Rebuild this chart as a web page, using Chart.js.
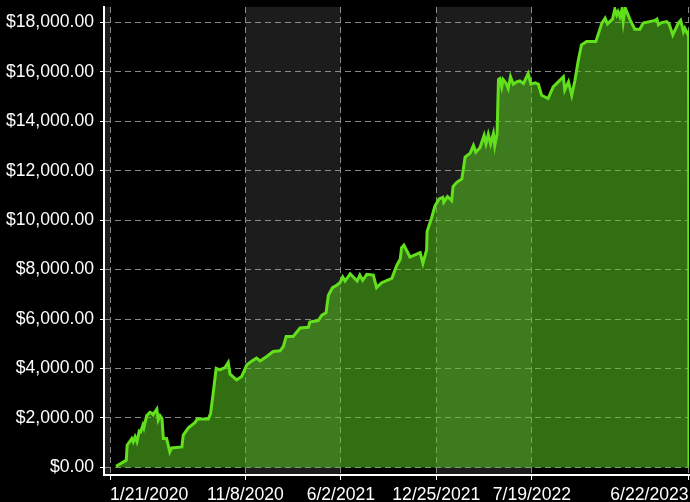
<!DOCTYPE html>
<html>
<head>
<meta charset="utf-8">
<script src="https://cdn.jsdelivr.net/npm/chart.js@4.4.1/dist/chart.umd.min.js"></script>
<style>
  html, body { margin: 0; padding: 0; background: #000; }
  #wrap { width: 690px; height: 502px; }
</style>
</head>
<body>
<div id="wrap"><canvas id="equityChart" width="690" height="502"></canvas></div>
<script>
// Days since 1/21/2020 and account value ($)
const days = [
    13, 35, 37, 47, 50, 54, 58, 63, 66, 71, 73, 79, 86, 90, 93, 97, 101, 104, 108, 112,
    115, 122, 129, 133, 155, 158, 169, 183, 188, 212, 217, 223, 229, 237, 244, 248, 255, 259, 273, 284,
    295, 306, 316, 324, 338, 352, 367, 374, 380, 395, 403, 410, 428, 431, 449, 457, 466, 471, 480, 489,
    496, 502, 507, 518, 533, 539, 545, 554, 568, 575, 586, 608, 618, 626, 629, 634, 647, 669, 675, 683,
    684, 694, 701, 710, 718, 720, 728, 737, 740, 748, 759, 766, 777, 784, 789, 798, 807, 811, 816, 821,
    827, 830, 835, 838, 841, 845, 848, 854, 859, 864, 870, 877, 884, 892, 902, 908, 917, 924, 931, 945,
    956, 978, 981, 989, 996, 1003, 1010, 1017, 1028, 1048, 1061, 1068, 1073, 1084, 1089, 1093, 1096, 1100, 1104, 1107,
    1111, 1122, 1132, 1143, 1150, 1176, 1180, 1183, 1190, 1201, 1206, 1214, 1226, 1231, 1237, 1240, 1245, 1248, 1249
];
const values = [
    50, 290, 900, 1170, 1040, 1240, 1040, 1470, 1440, 1710, 1600, 2090, 2230, 2190, 2130, 2250, 2360, 1920, 2090, 1980,
    1170, 1170, 630, 790, 830, 1310, 1600, 1810, 1960, 1960, 2190, 3070, 4010, 3950, 4010, 4040, 4250, 3770, 3540, 3680,
    4150, 4310, 4420, 4310, 4490, 4690, 4720, 4900, 5300, 5300, 5480, 5640, 5670, 5880, 5940, 6160, 6250, 6960, 7270, 7370,
    7470, 7700, 7540, 7830, 7540, 7780, 7570, 7810, 7780, 7270, 7470, 7650, 8150, 8420, 8890, 8990, 8510, 8690, 8250, 8800,
    9540, 10110, 10580, 10860, 10920, 10720, 10950, 10790, 11360, 11530, 11670, 12550, 12710, 13020, 12750, 12930, 13430, 13090, 13470, 13090,
    13500, 13020, 13500, 15690, 15730, 15390, 15690, 15550, 15320, 15800, 15500, 15590, 15630, 15530, 15930, 15500, 15550, 15500, 15050, 14920,
    15390, 15800, 15260, 15590, 15050, 15660, 16450, 17090, 17220, 17220, 17970, 18170, 17940, 18130, 18530, 18300, 18430, 18230, 18500, 18020,
    18600, 18100, 17720, 17720, 17970, 18080, 18130, 17900, 17990, 18030, 17940, 17490, 17970, 18080, 17620, 17760, 17560, 17620, 0
];

// x ticks (days since 1/21/2020) and their labels
const tickDays = [0, 292, 498, 704, 910, 1248];
const tickLabels = ['1/21/2020', '11/8/2020', '6/2/2021', '12/25/2021', '7/19/2022', '6/22/2023'];
const yTicks = [0, 2000, 4000, 6000, 8000, 10000, 12000, 14000, 16000, 18000];

// shaded periods (days)
const bandStarts = [-13, 292, 704];
const bandEnds = [0, 498, 910];

const bandsPlugin = {
    id: 'bands',
    beforeDraw(chart) {
        const c = chart.ctx;
        const area = chart.chartArea;
        const xs = chart.scales.x;
        c.save();
        c.fillStyle = '#000';
        c.fillRect(0, 0, chart.width, chart.height);
        c.fillStyle = '#1c1c1c';
        for (let i = 0; i < bandStarts.length; i++) {
            const x0 = Math.max(xs.getPixelForValue(bandStarts[i]), area.left);
            const x1 = xs.getPixelForValue(bandEnds[i]);
            c.fillRect(x0, area.top, x1 - x0, area.bottom - area.top);
        }
        c.restore();
    }
};

const tickFont = { family: "'Liberation Sans', Arial, sans-serif", size: 17.6 };

const ctx = document.getElementById('equityChart').getContext('2d');
new Chart(ctx, {
    type: 'line',
    data: {
        datasets: [{
            data: days.map((d, i) => ({ x: d, y: values[i] })),
            borderColor: '#62e01c',
            backgroundColor: 'rgba(91, 200, 33, 0.55)',
            borderWidth: 3,
            fill: 'origin',
            tension: 0,
            pointRadius: 0
        }]
    },
    options: {
        responsive: false,
        animation: false,
        layout: { padding: { top: 7, right: 1, left: 0, bottom: 0 } },
        plugins: {
            legend: { display: false },
            tooltip: { enabled: false }
        },
        scales: {
            x: {
                type: 'linear',
                min: -13,
                max: 1249,
                afterBuildTicks: s => { s.ticks = tickDays.map(v => ({ value: v })); },
                afterFit: s => { s.height = 27; s.paddingLeft = 0; s.paddingRight = 0; },
                grid: {
                    color: 'rgba(150,150,150,0.9)',
                    tickColor: '#ffffff',
                    tickBorderDash: [],
                    tickLength: 5
                },
                border: { color: '#ffffff', width: 2, dash: [6, 4] },
                ticks: {
                    color: '#ffffff',
                    font: tickFont,
                    align: 'inner',
                    maxRotation: 0,
                    autoSkip: false,
                    padding: 5,
                    callback: v => tickLabels[tickDays.indexOf(v)]
                }
            },
            y: {
                min: -305,
                max: 18620,
                afterBuildTicks: s => { s.ticks = yTicks.map(v => ({ value: v })); },
                afterFit: s => { s.width = 104; s.paddingTop = 0; s.paddingBottom = 0; },
                grid: {
                    color: 'rgba(150,150,150,0.9)',
                    tickColor: '#ffffff',
                    tickBorderDash: [],
                    tickLength: 4
                },
                border: { color: '#ffffff', width: 2, dash: [6, 4] },
                ticks: {
                    color: '#ffffff',
                    font: tickFont,
                    padding: 6,
                    callback: v => '$' + v.toLocaleString('en-US', { minimumFractionDigits: 2, maximumFractionDigits: 2 })
                }
            }
        }
    },
    plugins: [bandsPlugin]
});
</script>
</body>
</html>
